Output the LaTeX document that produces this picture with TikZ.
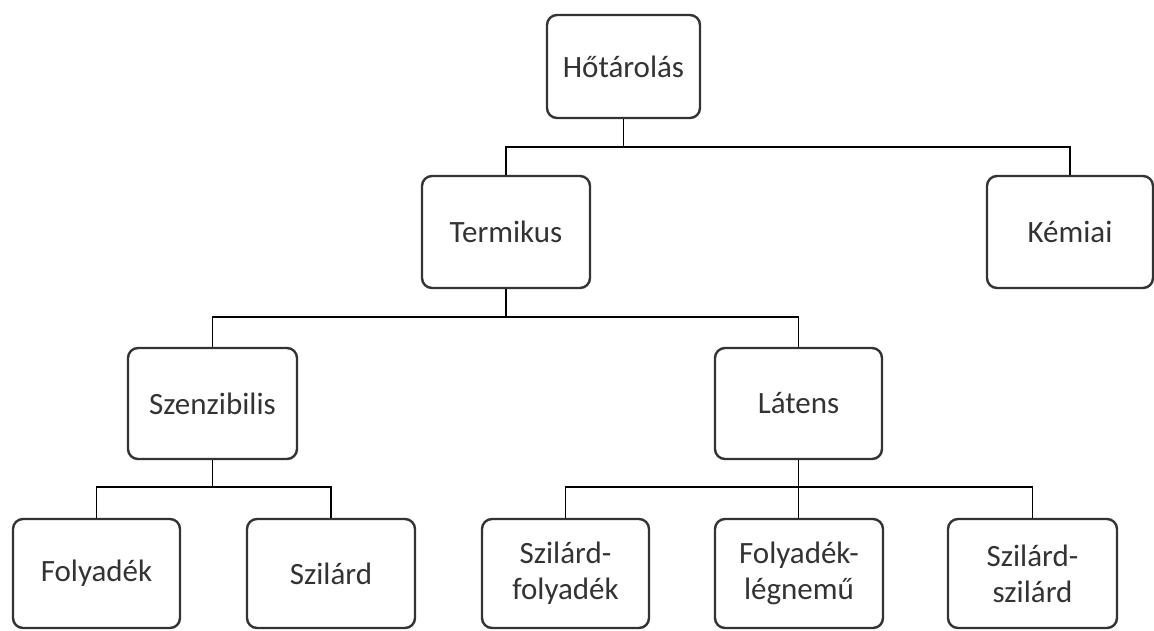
\documentclass[tikz,border=0pt]{standalone}
\usepackage{fontspec}
\setmainfont{Carlito}
\begin{document}
\begin{tikzpicture}[x=1pt,y=-1pt,
  box/.style={draw=black!80, line width=2.4pt, rounded corners=10pt, fill=white,
    text=black!80, font=\fontsize{31}{36}\selectfont, inner sep=0pt, align=center},
  conn/.style={draw=black, line width=1.6pt}]
\useasboundingbox[fill=white] (0,0) rectangle (1154,630);

\node[box, minimum width=153pt, minimum height=103pt] (hot) at (623.5,66.5) {Hőtárolás};
\node[box, minimum width=168pt, minimum height=112pt] (term) at (506,232) {Termikus};
\node[box, minimum width=166pt, minimum height=112pt] (kem) at (1070,232) {Kémiai};
\node[box, minimum width=169pt, minimum height=111pt] (szen) at (212.5,403.5) {Szenzibilis};
\node[box, minimum width=167pt, minimum height=111pt] (lat) at (798.5,403.5) {Látens};
\node[box, minimum width=167pt, minimum height=109pt] (foly) at (96.5,573.5) {Folyadék};
\node[box, minimum width=168pt, minimum height=109pt] (szil) at (331,573.5) {Szilárd};
\node[box, minimum width=167pt, minimum height=109pt] (szf) at (565.5,573.5) {Szilárd-\\folyadék};
\node[box, minimum width=168pt, minimum height=109pt] (fl) at (799,573.5) {Folyadék-\\légnemű};
\node[box, minimum width=169pt, minimum height=109pt] (ssz) at (1032.5,573.5) {Szilárd-\\szilárd};

\draw[conn] (hot.south) -- (hot.south |- 0,148);
\draw[conn] (term.north) -- ++(0,-28) -| (kem.north);
\draw[conn] (term.south) -- (term.south |- 0,318);
\draw[conn] (szen.north) -- ++(0,-30) -| (lat.north);
\draw[conn] (szen.south) -- (szen.south |- 0,488);
\draw[conn] (foly.north) -- ++(0,-31) -| (szil.north);
\draw[conn] (lat.south) -- (lat.south |- fl.north);
\draw[conn] (szf.north) -- ++(0,-31) -| (ssz.north);
\end{tikzpicture}
\end{document}
